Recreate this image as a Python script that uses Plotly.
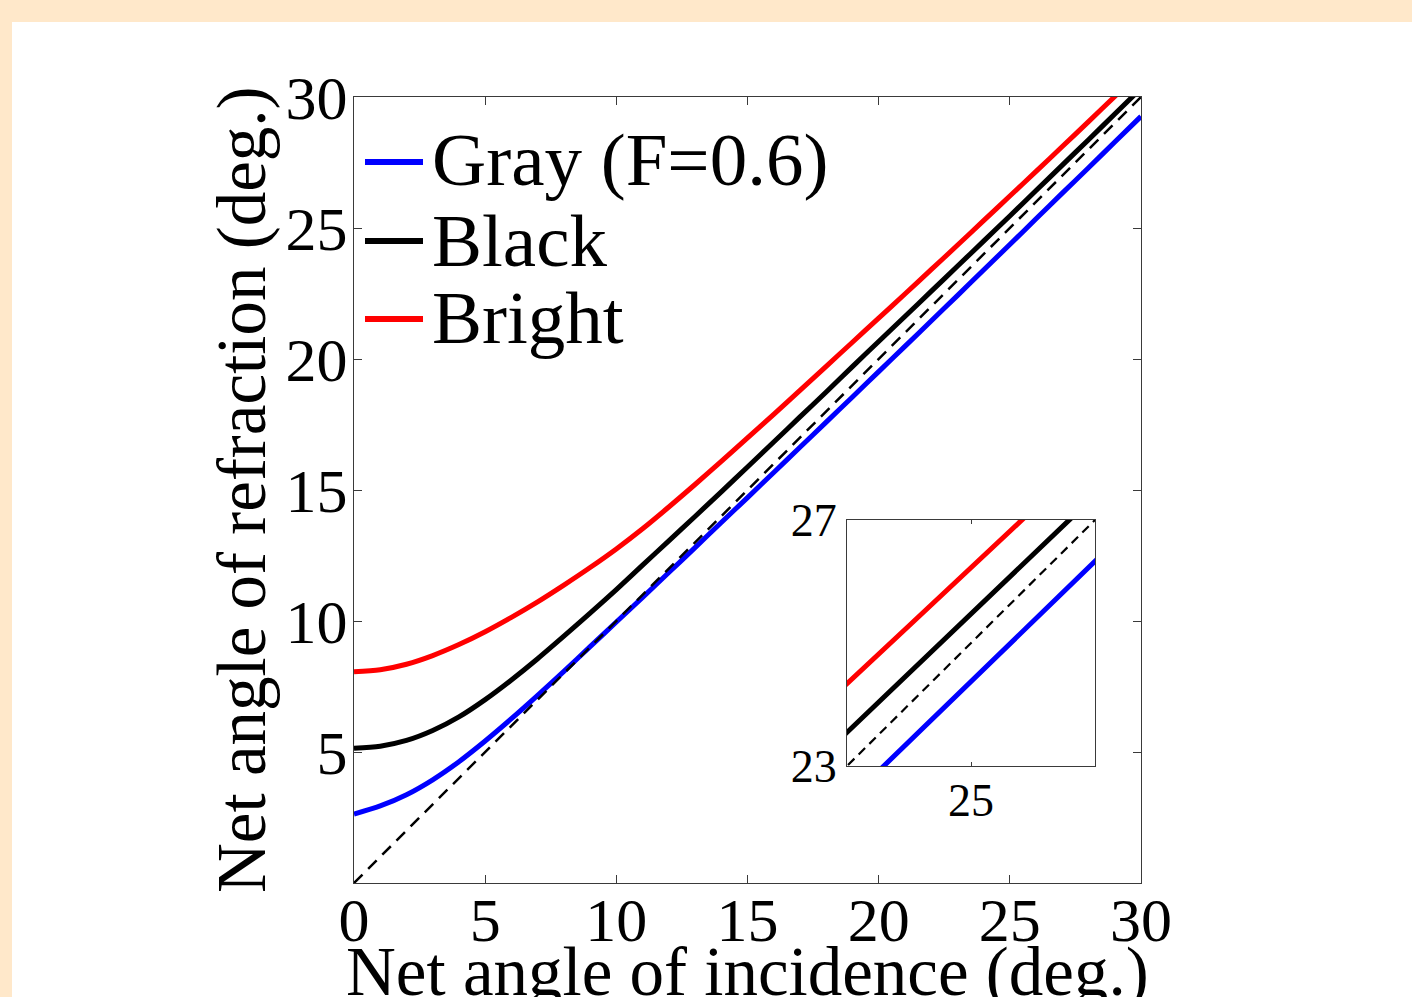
import plotly.graph_objects as go

# ---- data ----
incidence = list(range(0, 31))
gray_f06 = [2.63, 2.94, 3.37, 3.94, 4.63, 5.42, 6.27, 7.16, 8.08, 9.02, 9.96, 10.90, 11.85,
            12.80, 13.76, 14.71, 15.67, 16.63, 17.59, 18.55, 19.52, 20.48, 21.45, 22.42,
            23.40, 24.37, 25.35, 26.33, 27.30, 28.28, 29.26]
black = [5.14, 5.22, 5.44, 5.82, 6.34, 7.00, 7.75, 8.56, 9.42, 10.30, 11.20, 12.13, 13.06,
         13.99, 14.93, 15.88, 16.83, 17.79, 18.74, 19.71, 20.67, 21.62, 22.58, 23.54,
         24.50, 25.46, 26.43, 27.40, 28.37, 29.35, 30.33]
bright = [8.06, 8.14, 8.35, 8.68, 9.10, 9.59, 10.14, 10.73, 11.37, 12.04, 12.75, 13.52,
          14.35, 15.21, 16.09, 16.99, 17.89, 18.80, 19.72, 20.64, 21.56, 22.48, 23.41,
          24.34, 25.28, 26.22, 27.16, 28.11, 29.06, 30.02, 30.98]
identity_x = [0, 30]
identity_y = [0, 30]

series_names = ["Gray (F=0.6)", "Black", "Bright"]
series_colors = ["#0000FF", "#000000", "#FF0000"]
series_values = [gray_f06, black, bright]

main_xticks = [0, 5, 10, 15, 20, 25, 30]
main_yticks = [5, 10, 15, 20, 25, 30]
inset_xticks = [25]
inset_yticks = [23, 27]

FONT = "Liberation Serif"
AXIS_COLOR = "#3a3a3a"

fig = go.Figure()

# main plot
for name, col, vals in zip(series_names, series_colors, series_values):
    fig.add_trace(go.Scatter(x=incidence, y=vals, mode="lines", name=name,
                             line=dict(color=col, width=5, shape="spline", smoothing=0.8),
                             xaxis="x", yaxis="y", showlegend=False))
fig.add_trace(go.Scatter(x=identity_x, y=identity_y, mode="lines",
                         line=dict(color="black", width=2.5, dash="12px,8px"),
                         xaxis="x", yaxis="y", showlegend=False))

# inset (same data, zoomed)
for name, col, vals in zip(series_names, series_colors, series_values):
    fig.add_trace(go.Scatter(x=incidence, y=vals, mode="lines", name=name,
                             line=dict(color=col, width=5),
                             xaxis="x2", yaxis="y2", showlegend=False))
fig.add_trace(go.Scatter(x=identity_x, y=identity_y, mode="lines",
                         line=dict(color="black", width=2.2, dash="9px,6px"),
                         xaxis="x2", yaxis="y2", showlegend=False))

W, H = 1412, 997
L, R, T, B = 354, 1141, 97, 883
pw, ph = R - L, B - T


def px_x(p):
    return (p - L) / pw


def px_y(p):
    return (B - p) / ph


def axis_style(size, ticklen, standoff):
    return dict(showline=True, linecolor=AXIS_COLOR, linewidth=1.2, mirror="ticks",
                ticks="inside", tickcolor=AXIS_COLOR, ticklen=ticklen,
                showgrid=False, zeroline=False, ticklabelstandoff=standoff,
                tickfont=dict(family=FONT, size=size, color="black"))


fig.update_layout(
    width=W, height=H, autosize=False,
    margin=dict(l=L, r=W - R, t=T, b=H - B, pad=0),
    paper_bgcolor="#FFE8CA", plot_bgcolor="white",
    showlegend=False,
    xaxis=dict(range=[0, 30], tickvals=main_xticks, **axis_style(62, 8, -18)),
    yaxis=dict(range=[0, 30], tickvals=main_yticks, **axis_style(62, 8, -7)),
    xaxis2=dict(domain=[px_x(847), px_x(1095)], anchor="y2", range=[23, 27],
                tickvals=inset_xticks, **axis_style(46, 4, -6)),
    yaxis2=dict(domain=[px_y(766), px_y(520)], anchor="x2", range=[23, 27],
                tickvals=inset_yticks, **axis_style(46, 4, 0)),
)

# white panel over beige page
fig.add_shape(type="rect", xref="paper", yref="paper",
              x0=px_x(12), x1=px_x(W + 50), y0=px_y(H + 50), y1=px_y(22),
              fillcolor="white", line=dict(width=0), layer="below")

# legend (manual)
legend_rows = [(162, 160), (241, 241), (319, 317.5)]
for (ly, ty), name, col in zip(legend_rows, series_names, series_colors):
    fig.add_shape(type="line", xref="paper", yref="paper",
                  x0=px_x(365), x1=px_x(423), y0=px_y(ly), y1=px_y(ly),
                  line=dict(color=col, width=6))
    fig.add_annotation(xref="paper", yref="paper", x=px_x(430), y=px_y(ty),
                       xanchor="left", yanchor="middle", showarrow=False, text=name,
                       font=dict(family=FONT, size=75, color="black"))

# axis titles
fig.add_annotation(xref="paper", yref="paper", x=px_x(747), y=px_y(972),
                   xanchor="center", yanchor="middle", showarrow=False,
                   text="Net angle of incidence (deg.)",
                   font=dict(family=FONT, size=69, color="black"))
fig.add_annotation(xref="paper", yref="paper", x=px_x(242), y=px_y(490),
                   xanchor="center", yanchor="middle", showarrow=False, textangle=-90,
                   text="Net angle of refraction (deg.)",
                   font=dict(family=FONT, size=69, color="black"))

fig.write_html("out.html")
